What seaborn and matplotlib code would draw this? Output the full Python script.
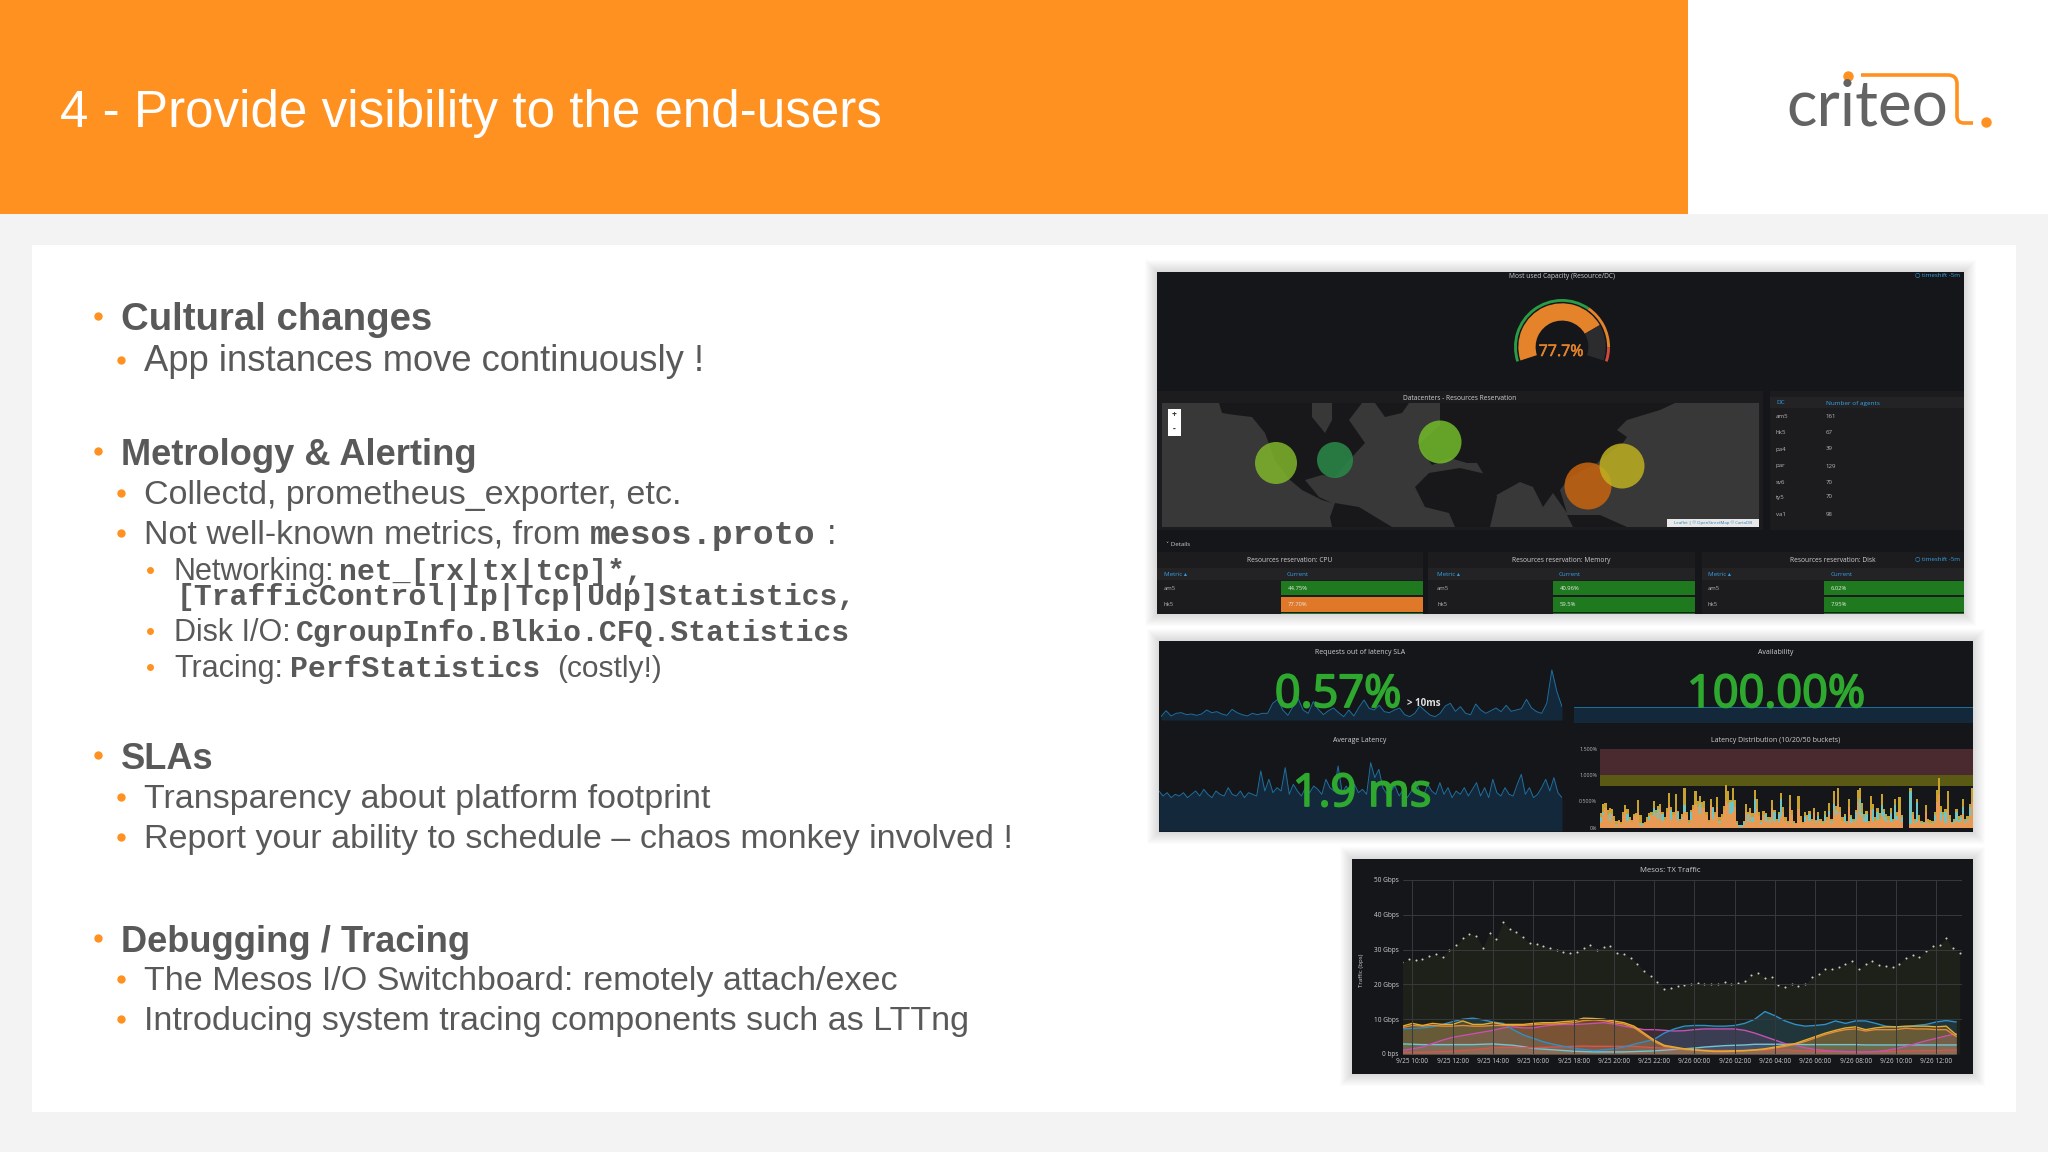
import matplotlib
matplotlib.use("Agg")
import matplotlib.dates as mdates
import matplotlib.patches as mpatches
import matplotlib.patheffects as pe
import matplotlib.pyplot as plt
from matplotlib.path import Path
import pandas as pd
import seaborn as sns

W, H = 2048, 1152

# capacity gauge
gauge_value = [77.7, 22.3]
gauge_thresholds = [66, 26, 8]

# datacenters map, all in slide pixels
map_dc = ["a", "b", "c", "d", "e"]
map_x = [1276, 1335, 1440, 1588, 1622]
map_y = [463, 460, 442, 486, 466]
map_size = [42, 36, 43, 47, 45]
map_colors = ["#7fb52b", "#2a8a48", "#72bd2a", "#c9640f", "#bfb020"]
north_america = [(1219, 403), (1312, 403), (1312, 417), (1325, 433), (1332, 420), (1332, 403), (1362, 403), (1349, 420),
                 (1365, 443), (1352, 457), (1335, 477), (1322, 475), (1305, 480), (1319, 497), (1332, 503), (1322, 500),
                 (1302, 490), (1290, 480), (1275, 460), (1265, 433), (1252, 417), (1235, 415), (1222, 413)]
greenland = [(1375, 403), (1409, 403), (1402, 413), (1385, 417)]
south_america = [(1335, 503), (1359, 507), (1392, 527), (1332, 527), (1330, 517)]
africa = [(1415, 487), (1429, 473), (1460, 468), (1490, 475), (1497, 497), (1490, 527), (1455, 527), (1449, 513),
          (1425, 507)]
eurasia = [(1440, 403), (1675, 403), (1660, 410), (1627, 420), (1617, 430), (1627, 437), (1623, 443), (1600, 460),
           (1597, 463), (1570, 477), (1560, 490), (1567, 513), (1553, 493), (1543, 507), (1533, 487), (1520, 482),
           (1493, 497), (1487, 480), (1477, 463), (1467, 463), (1450, 458), (1432, 465), (1418, 445), (1440, 425)]
indonesia = [(1567, 515), (1600, 515), (1627, 527), (1573, 527)]

# tables
agents_dc = ["am5", "hk5", "pa4", "par", "sv6", "ty5", "va1"]
agents_count = ["161", "67", "39", "129", "70", "70", "98"]
reservation_titles = ["Resources reservation: CPU", "Resources reservation: Memory", "Resources reservation: Disk"]
reservation_am5 = ["44.75%", "40.96%", "6.02%"]
reservation_hk5 = ["77.70%", "59.5%", "7.95%"]

# sparklines
sla_values = [.1, .28, .12, .2, .22, .16, .18, .14, .18, .3,
              .22, .25, .18, .14, .32, .22, .16, .12, .2, .16,
              .2, .2, .5, .62, .3, .14, .4, .65, .3, .2,
              .55, .32, .16, .28, .36, .22, .1, .3, .12, .38,
              .6, .35, .3, .44, .25, .22, .3, .36, .16, .1,
              .2, .42, .28, .15, .1, .2, .42, .5, .26, .4,
              .2, .16, .48, .3, .2, .28, .36, .25, .44, .26,
              .3, .34, .62, .36, .25, .2, .5, 1.5, .85, .4]
latency_values = [1.2, 1.05, 1.15, 1.0, 1.1, 1.05, 1.15, 1.0, 1.1, 1.2,
                  1.05, 1.25, 1.1, 1.0, 1.2, 1.1, 1.05, 1.3, 1.1, 1.05,
                  1.2, 1.0, 1.15, 1.1, 1.05, 1.8, 1.2, 1.55, 1.15, 1.3,
                  1.2, 1.9, 1.1, 1.4, 1.2, 1.05, 1.3, 1.15, 1.35, 1.25,
                  1.1, 1.55, 1.3, 1.2, 1.95, 1.15, 1.35, 1.1, 1.4, 1.15,
                  1.25, 1.1, 2.05, 1.6, 1.85, 1.3, 1.1, 1.2, 1.35, 1.05,
                  1.25, 1.0, 1.2, 1.5, 1.2, 1.05, 1.4, 1.2, 1.1, 1.45,
                  1.1, 1.3, 1.0, 1.2, 1.1, 1.3, 1.05, 1.25, 1.45, 1.05,
                  1.3, 1.0, 1.55, 1.15, 1.05, 1.3, 1.1, 1.05, 1.4, 1.7,
                  1.1, 1.3, 1.0, 1.1, 1.3, 1.55, 1.2, 1.6, 1.15, 1.0]
availability_values = [100, 100]

# latency distribution buckets, percent
lat_yellow = [.28, .46, .47, .34, .38, .36, .22, .14, .16, .12,
              .30, .44, .36, .20, .16, .26, .28, .54, .24, .10,
              .12, .20, .28, .30, .52, .34, .42, .46, .30, .20,
              .38, .66, .40, .30, .64, .32, .18, .26, .76, .30,
              .16, .34, .44, .70, .52, .60, .50, .52, .30, .16,
              .56, .40, .30, .58, .20, .26, .42, .82, .70, .54,
              .76, .54, .14, .06, .06, .14, .46, .30, .38, .28,
              .72, .56, .30, .16, .32, .28, .20, .20, .54, .34,
              .18, .30, .66, .40, .20, .14, .62, .34, .14, .10,
              .60, .22, .12, .30, .24, .32, .18, .38, .16, .30,
              .18, .14, .32, .20, .48, .18, .70, .42, .76, .40,
              .20, .26, .14, .56, .24, .18, .34, .72, .76, .48,
              .26, .32, .14, .60, .46, .20, .38, .28, .64, .36,
              .26, .22, .38, .18, .56, .30, .58, .24, .00, .00,
              .00, .76, .30, .18, .56, .24, .14, .12, .44, .18,
              .16, .14, .30, .72, .95, .42, .30, .36, .70, .24,
              .12, .18, .36, .22, .24, .56, .18, .22, .46, .76]
lat_teal = [.20, .30, .22, .12, .28, .16, .10, .08, .12, .06,
            .18, .12, .26, .10, .08, .18, .12, .22, .10, .08,
            .06, .12, .22, .18, .38, .20, .36, .16, .26, .10,
            .12, .24, .34, .10, .18, .30, .10, .20, .44, .14,
            .10, .30, .20, .18, .22, .48, .20, .26, .12, .10,
            .16, .38, .12, .24, .14, .20, .18, .24, .30, .50,
            .52, .22, .10, .06, .06, .12, .24, .26, .14, .20,
            .56, .24, .12, .12, .14, .26, .10, .18, .20, .30,
            .10, .26, .56, .16, .12, .10, .30, .16, .10, .06,
            .34, .10, .08, .22, .12, .26, .10, .20, .14, .22,
            .12, .10, .24, .10, .32, .14, .46, .34, .40, .30,
            .12, .22, .10, .24, .20, .14, .30, .30, .56, .28,
            .20, .26, .10, .34, .36, .14, .30, .18, .44, .30,
            .20, .16, .28, .14, .44, .22, .28, .20, .00, .00,
            .00, .70, .16, .14, .50, .16, .10, .10, .22, .12,
            .10, .10, .24, .30, .32, .30, .24, .30, .30, .18,
            .10, .14, .30, .16, .20, .40, .14, .18, .40, .44]
lat_orange = [.12, .24, .38, .24, .14, .26, .16, .06, .14, .08,
              .24, .32, .14, .16, .12, .22, .24, .28, .06, .05,
              .10, .16, .16, .24, .22, .28, .18, .36, .14, .16,
              .30, .42, .16, .24, .34, .14, .14, .18, .30, .24,
              .08, .16, .36, .46, .40, .26, .40, .38, .24, .12,
              .44, .18, .24, .40, .10, .20, .34, .52, .46, .26,
              .30, .40, .08, .02, .02, .06, .30, .12, .28, .12,
              .28, .36, .22, .08, .24, .12, .16, .10, .38, .14,
              .14, .12, .20, .30, .14, .08, .40, .24, .08, .08,
              .36, .16, .08, .12, .20, .14, .14, .28, .10, .14,
              .14, .08, .14, .16, .24, .10, .34, .24, .46, .28,
              .14, .12, .08, .40, .10, .12, .14, .50, .26, .20,
              .12, .12, .10, .34, .14, .14, .16, .18, .22, .18,
              .12, .16, .12, .12, .18, .16, .34, .12, .00, .00,
              .00, .08, .24, .10, .12, .16, .08, .08, .30, .10,
              .10, .08, .14, .50, .62, .14, .22, .10, .34, .16,
              .08, .10, .14, .12, .14, .26, .10, .14, .22, .50]
lat_ticks = [0, 0.5, 1.0, 1.5]
lat_ticklabels = ["0%", "0.500%", "1.000%", "1.500%"]

# TX traffic, Gbps. total sampled every 20 min, the rest every 30 min
tx_total = [26.3, 27.2, 26.9, 27.4, 28.2, 28.6, 28.0, 30.0, 31.2, 33.2,
            34.6, 34.0, 30.5, 34.8, 33.0, 38.0, 36.0, 35.0, 33.5, 31.8,
            31.6, 31.0, 30.6, 29.8, 29.4, 29.0, 29.2, 30.5, 31.2, 30.0,
            30.8, 31.0, 29.0, 28.8, 27.6, 26.0, 23.8, 22.4, 20.8, 18.8,
            18.9, 19.4, 19.8, 20.0, 20.4, 20.0, 20.0, 20.2, 20.6, 20.0,
            20.4, 21.0, 22.8, 23.2, 21.8, 22.0, 19.8, 19.2, 20.0, 19.4,
            20.0, 22.0, 23.0, 24.4, 24.5, 25.0, 25.8, 26.6, 24.4, 26.0,
            26.8, 25.6, 25.2, 25.0, 26.0, 27.6, 28.4, 28.0, 29.5, 31.0,
            31.2, 33.2, 30.4, 29.0]
tx_blue = [7.2, 7.4, 7.5, 7.8, 8.5, 9.3, 10, 10.3, 9.8, 9.2,
           8.8, 7.0, 5.5, 4.5, 3.5, 2.8, 2.2, 1.7, 1.3, 1.0,
           1.2, 1.5, 2, 2.8, 3.5, 4.2, 6, 7.2, 8, 8.2,
           8.2, 8, 8, 8.2, 8.8, 10, 12.2, 11, 9.5, 8.5,
           8, 8.2, 8.5, 9.5, 8.8, 9.5, 9.5, 8.8, 8, 7.8,
           7.8, 8.2, 8.5, 9.2, 9.6, 9.2]
tx_yellow = [8, 8.8, 8.2, 8.8, 8.5, 8.5, 9.5, 8.5, 8.5, 9,
             8.5, 8.5, 8.5, 8.8, 9, 9, 9.3, 9.5, 10.3, 10.2,
             10, 9.5, 9, 8, 6, 4, 2.5, 2, 1.5, 1.2,
             1, .8, .8, .9, 1, 1.2, 1.5, 2, 2.5, 3,
             4, 5, 6, 6.8, 7.5, 7.8, 7, 7.5, 7.8, 7.8,
             8, 8, 8, 7.8, 8, 5.5]
tx_orange = [7.6, 8.2, 8, 8.2, 8, 8, 8.2, 8, 8, 8.2,
             8.2, 8.2, 8.2, 8.4, 8.6, 8.6, 8.8, 9, 9.6, 9.8,
             9.6, 9, 8.6, 7.6, 5.6, 3.6, 2.2, 1.8, 1.3, 1.1,
             .9, .7, .7, .8, .9, 1.1, 1.3, 1.7, 2.2, 2.8,
             3.6, 4.6, 5.6, 6.4, 7, 7.2, 6.6, 7, 7, 7,
             7.4, 7.2, 7.2, 7, 7, 5]
tx_magenta = [1, 1.5, 2, 3, 4, 4.8, 5.3, 5.8, 6.3, 6.8,
              7.5, 7.8, 7.5, 7.5, 8, 8.3, 8.5, 8.5, 8.6, 8.8,
              9, 8.6, 8, 7.5, 7, 7, 6.8, 6.6, 6.7, 7,
              7.2, 7.2, 7.2, 7.2, 6.8, 6, 5, 4, 3, 2.5,
              1.8, 1.3, 1, .8, .7, .6, .6, .7, 1, 1.5,
              2.2, 3, 3.8, 4.5, 5.2, 5.8]
tx_cyan = [2.9, 2.8, 2.7, 2.7, 2.7, 2.7, 2.7, 2.7, 2.8, 2.9,
           2.7, 2.5, 2.1, 1.6, 1.4, 1.2, 1.0, .8, .7, .6,
           .6, .6, .6, .7, .8, .9, 1.1, 1.3, 1.5, 1.7,
           2.0, 2.2, 2.4, 2.5, 2.6, 2.8, 2.8, 2.8, 2.8, 2.8,
           2.7, 2.7, 2.7, 2.7, 2.7, 2.7, 2.6, 2.6, 2.6, 2.6,
           2.6, 2.6, 2.6, 2.6, 2.6, 2.6]
tx_red = [.5, .5, .5, .6, .7, .8, 1.0, 1.2, 1.5, 1.8,
          1.9, 1.9, 1.8, 1.8, 1.9, 2, 2.1, 2.2, 2.3, 2.2,
          2.2, 2.2, 2.2, 2.2, 2.0, 1.8, 1.7, 1.6, 1.4, 1.2,
          1.1, 1.0, 1.0, 1.0, 1.0, 1.1, 1.1, 1.1, 1.2, 1.0,
          .9, .8, .7, .7, .6, .6, .6, .6, .7, .8,
          .9, 1.0, 1.0, 1.0, 1.1, 1.2]
tx_yticks = [0, 10, 20, 30, 40, 50]
tx_yticklabels = ["0 bps", "10 Gbps", "20 Gbps", "30 Gbps", "40 Gbps", "50 Gbps"]
tx_xticklabels = ["9/25 10:00", "9/25 12:00", "9/25 14:00", "9/25 16:00", "9/25 18:00", "9/25 20:00", "9/25 22:00",
                  "9/26 00:00", "9/26 02:00", "9/26 04:00", "9/26 06:00", "9/26 08:00", "9/26 10:00", "9/26 12:00"]

ORANGE = "#FF9120"
SLIDE_GREY = "#595959"
DARK = "#141619"
TXT = "#cfcfcf"
BLUE_TXT = "#33a2e5"
LINE_BLUE = "#1f6f9f"
FILL_BLUE = "#14283c"
STAT_GREEN = "#2ea82e"

sns.set_style("white")
plt.rcParams["font.family"] = ["Liberation Sans", "DejaVu Sans"]

fig = plt.figure(figsize=(W / 100, H / 100), dpi=100, facecolor="#F3F3F4")


def pixel_axes(x0, y0, x1, y1, zorder=2):
    ax = fig.add_axes([x0 / W, 1 - y1 / H, (x1 - x0) / W, (y1 - y0) / H], zorder=zorder)
    ax.patch.set_alpha(0)
    ax.set_axis_off()
    return ax


def rect(ax, x0, y0, x1, y1, color, **kw):
    ax.add_patch(mpatches.Rectangle((x0, y0), x1 - x0, y1 - y0, facecolor=color, edgecolor="none", **kw))


def shadow(ax, x0, y0, x1, y1):
    for d in range(12, 0, -1):
        rect(ax, x0 - d, y0 - d, x1 + d, y1 + d, "#000000", alpha=0.012)


bg = pixel_axes(0, 0, W, H, zorder=0)
bg.set_xlim(0, W)
bg.set_ylim(H, 0)
top = pixel_axes(0, 0, W, H, zorder=10)
top.set_xlim(0, W)
top.set_ylim(H, 0)

# header and slide body
rect(bg, 0, 0, 1688, 214, ORANGE)
rect(bg, 1688, 0, W, 214, "#FFFFFF")
rect(bg, 32, 245, 2016, 1112, "#FFFFFF")
top.text(60, 127, "4 - Provide visibility to the end-users", color="white", fontsize=36.85)

# logo
top.text(1786, 126, "criteo", color="#636363", fontsize=46, family="Lato")
logo_path = Path([(1861, 75), (1948, 75), (1957, 75), (1957, 84), (1957, 116), (1957, 123), (1964, 123), (1973, 123)],
                 [Path.MOVETO, Path.LINETO, Path.CURVE3, Path.CURVE3, Path.LINETO, Path.CURVE3, Path.CURVE3, Path.LINETO])
top.add_patch(mpatches.PathPatch(logo_path, facecolor="none", edgecolor=ORANGE, lw=2.6))
top.plot([1848, 1986], [76, 122], "o", color=ORANGE, ms=6.5, ls="none")


# bullets
def bullet(x, y, ms=5):
    top.plot([x], [y], "o", color=ORANGE, ms=ms, mec="none")


def say(x, y, s, size=25, **kw):
    kw.setdefault("color", SLIDE_GREY)
    top.text(x, y, s, fontsize=size, **kw)


def mono(x, y, s, size=21.4):
    top.text(x, y, s, fontsize=size, family="Liberation Mono", weight="bold", color=SLIDE_GREY)


for y, s, size in [(330, "Cultural changes", 27.6), (465, "Metrology & Alerting", 26.1), (769, "SLAs", 26.1),
                   (952, "Debugging / Tracing", 26.1)]:
    bullet(98, y - 14, 6)
    say(121, y, s, size, weight="bold")
for y, s, size in [(371, "App instances move continuously !", 26.2), (504, "Collectd, prometheus_exporter, etc.", 24.5),
                   (544, "Not well-known metrics, from", 24.5), (808, "Transparency about platform footprint", 24.5),
                   (848, "Report your ability to schedule \u2013 chaos monkey involved !", 24.5),
                   (990, "The Mesos I/O Switchboard: remotely attach/exec", 24.5),
                   (1030, "Introducing system tracing components such as LTTng", 24.5)]:
    bullet(121, y - 11, 6)
    say(144, y, s, size)
mono(590, 544, "mesos.proto", 24.7)
say(827, 544, ":", 25)
for y, s in [(580, "Networking:"), (641, "Disk I/O:"), (677, "Tracing:")]:
    bullet(150, y - 10, 5)
    say(174, y, s, 22)
mono(339, 580, "net_[rx|tx|tcp]*,")
mono(177, 605, "[TrafficControl|Ip|Tcp|Udp]Statistics,")
mono(296, 641, "CgroupInfo.Blkio.CFQ.Statistics")
mono(290, 677, "PerfStatistics")
say(557, 677, "(costly!)", 21.5)


def dash_text(x, y, s, size=4.8, color=TXT, ha="center", **kw):
    kw.setdefault("family", ["Open Sans", "DejaVu Sans"])
    return top.text(x, y, s, fontsize=size, color=color, ha=ha, va="center", **kw)


def stat_text(x, y, s, color=STAT_GREEN, size=32.5, stroke=1.3):
    label = dash_text(x, y, s, size, color)
    label.set_path_effects([pe.withStroke(linewidth=stroke, foreground=color)])


# first dashboard
shadow(bg, 1157, 272, 1964, 614)
rect(bg, 1157, 272, 1964, 614, DARK)
rect(bg, 1157, 391, 1763, 530, "#1c1c1f")
rect(bg, 1770, 391, 1964, 530, "#1c1c1f")
rect(bg, 1770, 397, 1964, 408, "#232326")
dash_text(1562, 276, "Most used Capacity (Resource/DC)")
dash_text(1960, 275, "\u25cb timeshift -5m", 4.4, BLUE_TXT, ha="right")
dash_text(1460, 398, "Datacenters - Resources Reservation")
dash_text(1166, 544, "\u02c5 Details", 4.4, ha="left")

gauge = pixel_axes(1514, 299, 1610, 395, zorder=4)
gauge_hidden = sum(gauge_value) * 144 / 216
gauge.pie(gauge_value + [gauge_hidden], radius=0.91, startangle=198, counterclock=False,
          colors=["#e5832a", "#2c2c2e", "none"], wedgeprops={"width": 0.36, "linewidth": 0})
gauge.pie(gauge_thresholds + [sum(gauge_thresholds) * 144 / 216], radius=1.0, startangle=198, counterclock=False,
          colors=["#299c46", "#e5832a", "#d44a3a", "none"], wedgeprops={"width": 0.06, "linewidth": 0})
gauge.set_xlim(-1, 1)
gauge.set_ylim(-1, 1)
stat_text(1561, 352, "77.7%", "#e5832a", 11.5, 0.4)

# map
world = pixel_axes(1162, 403, 1759, 527, zorder=3)
world.add_patch(mpatches.Rectangle((1162, 403), 597, 124, facecolor="#383838", edgecolor="none"))
for shape in [north_america, greenland, south_america, africa, eurasia, indonesia]:
    world.fill(*zip(*shape), color="#18181a", lw=0)
map_df = pd.DataFrame({"dc": map_dc, "x": map_x, "y": map_y})
sns.scatterplot(data=map_df, x="x", y="y", hue="dc", palette=dict(zip(map_dc, map_colors)), size="dc",
                sizes={d: (s * 0.72) ** 2 for d, s in zip(map_dc, map_size)}, alpha=0.85, linewidth=0,
                legend=False, ax=world)
world.set_xlim(1162, 1759)
world.set_ylim(527, 403)
world.set_axis_off()
rect(top, 1168, 409, 1181, 436, "#FFFFFF")
dash_text(1174.5, 415, "+", 6, "#333333", weight="bold")
dash_text(1174.5, 429, "-", 6, "#333333", weight="bold")
rect(top, 1667, 519, 1759, 527, "#e8e8e8")
dash_text(1713, 523, "Leaflet | \u00a9 OpenStreetMap \u00a9 CartoDB", 3.2, "#2f7fb0")

dash_text(1776, 403, "DC", 4.6, BLUE_TXT, ha="left")
dash_text(1826, 403, "Number of agents", 4.6, BLUE_TXT, ha="left")
for y, dc, n in zip([417, 433, 449, 466, 482, 497, 514], agents_dc, agents_count):
    dash_text(1776, y, dc, 4.4, "#b5b5b5", ha="left")
    dash_text(1826, y, n, 4.4, "#b5b5b5", ha="left")

# reservation tables
table_left = [1157, 1428, 1702]
table_right = [1423, 1695, 1964]
table_metric = [1164, 1437, 1708]
table_current = [1287, 1559, 1831]
table_cell = [1281, 1553, 1824]
for i, title in enumerate(reservation_titles):
    rect(bg, table_left[i], 552, table_right[i], 614, "#1c1c1f")
    rect(bg, table_left[i], 568, table_right[i], 580, "#232326")
    dash_text((table_left[i] + table_right[i]) / 2, 560, title)
    dash_text(table_metric[i], 574, "Metric \u25b4", 4.4, BLUE_TXT, ha="left")
    dash_text(table_current[i], 574, "Current", 4.4, BLUE_TXT, ha="left")
    dash_text(table_metric[i], 588, "am5", 4.2, "#b5b5b5", ha="left")
    dash_text(table_metric[i], 604, "hk5", 4.2, "#b5b5b5", ha="left")
    rect(bg, table_cell[i], 581, table_right[i], 595, "#1f7a1f")
    hot = reservation_hk5[i] == "77.70%"
    rect(bg, table_cell[i], 597, table_right[i], 612, "#e0782a" if hot else "#1f7a1f")
    rect(bg, table_cell[i], 613, table_right[i], 614, "#1f7a1f")
    dash_text(table_cell[i] + 7, 588, reservation_am5[i], 4.2, "#e8e8e8", ha="left")
    dash_text(table_cell[i] + 7, 604, reservation_hk5[i], 4.2, "#e8e8e8", ha="left")
dash_text(1960, 559, "\u25cb timeshift -5m", 4.4, BLUE_TXT, ha="right")

# second dashboard
shadow(bg, 1159, 641, 1973, 832)
rect(bg, 1159, 641, 1973, 832, DARK)


def sparkline(x0, y0, x1, y1, values, ymax):
    ax = pixel_axes(x0, y0, x1, y1, zorder=3)
    xs = list(range(len(values)))
    ax.fill_between(xs, values, 0, color=FILL_BLUE, lw=0)
    sns.lineplot(x=xs, y=values, color=LINE_BLUE, lw=0.7, errorbar=None, ax=ax)
    ax.set_xlim(0, len(values) - 1)
    ax.set_ylim(0, ymax)
    ax.set_axis_off()


sparkline(1161, 665, 1562, 720, sla_values, 1.65)
sparkline(1574, 700, 1973, 723, availability_values, 143.75)
sparkline(1159, 755, 1562, 831, latency_values, 2.28)

dash_text(1360, 652, "Requests out of latency SLA", 5)
dash_text(1776, 652, "Availability", 5)
dash_text(1360, 740, "Average Latency", 5)
dash_text(1776, 740, "Latency Distribution (10/20/50 buckets)", 5)
stat_text(1338, 695, "0.57%")
stat_text(1776, 695, "100.00%")
stat_text(1362, 794, "1.9 ms")
dash_text(1407, 703, "> 10ms", 7, "#e0e0e0", ha="left", weight="bold")

dist = pixel_axes(1600, 749, 1973, 828, zorder=3)
dist.axhspan(1.0, 1.5, color="#4a2a2f", lw=0)
dist.axhspan(0.8, 1.0, color="#5a5a14", lw=0)
lat_df = pd.DataFrame({"bucket": range(len(lat_yellow)), "y": lat_yellow, "t": lat_teal, "o": lat_orange})
for col, color in [("y", "#c9a22e"), ("t", "#6fc4c4"), ("o", "#e89a55")]:
    sns.barplot(data=lat_df, x="bucket", y=col, color=color, width=1, saturation=1, errorbar=None,
                linewidth=0, ax=dist)
dist.set_ylim(0, 1.5)
dist.set_axis_off()
for value, label in zip(lat_ticks, lat_ticklabels):
    dash_text(1597, 828 - value * 52.6, label, 3.9, "#b5b5b5", ha="right")

# third dashboard
shadow(bg, 1352, 859, 1973, 1074)
rect(bg, 1352, 859, 1973, 1074, DARK)
dash_text(1670, 870, "Mesos: TX Traffic", 5.6)
dash_text(1361, 970, "Traffic (bps)", 4.4, rotation=90)

tx = pixel_axes(1403, 880, 1962, 1054, zorder=3)
tx.set_axis_on()
tx_slow = pd.date_range("2017-09-25 09:30", periods=len(tx_blue), freq="30min")
tx_fast = pd.date_range("2017-09-25 09:30", periods=len(tx_total), freq="20min")
tx.fill_between(tx_fast, tx_total, 0, color="#1d2119", lw=0)
sns.scatterplot(x=tx_fast, y=tx_total, color="#c8cbbd", s=2.2, linewidth=0, legend=False, ax=tx)
tx_lines = [(tx_cyan, "#6fc7d6"), (tx_red, "#d9534f"), (tx_magenta, "#c850b0"), (tx_blue, "#2f8fc8"),
            (tx_orange, "#e58a3a"), (tx_yellow, "#e5ac2e")]
for values, color in tx_lines:
    tx.fill_between(tx_slow, values, 0, color=color, alpha=0.2, lw=0)
    sns.lineplot(x=tx_slow, y=values, color=color, lw=1.0, errorbar=None, ax=tx)
tx.set_xlim(pd.Timestamp("2017-09-25 09:32"), pd.Timestamp("2017-09-26 13:17"))
tx.set_ylim(0, 50)
tx.set_yticks(tx_yticks)
tx.set_yticklabels(tx_yticklabels)
tx.set_xticks(mdates.date2num(pd.date_range("2017-09-25 10:00", periods=len(tx_xticklabels), freq="2h")))
tx.set_xticklabels(tx_xticklabels)
tx.grid(True, color="#38393c", lw=0.7)
tx.set_axisbelow(False)
tx.tick_params(length=0, labelsize=4.7, labelcolor=TXT, pad=3)
for label in tx.get_xticklabels() + tx.get_yticklabels():
    label.set_family("Open Sans")
for spine in tx.spines.values():
    spine.set_visible(False)
tx.set_xlabel("")

fig.savefig("out.png", dpi=100, facecolor=fig.get_facecolor())
